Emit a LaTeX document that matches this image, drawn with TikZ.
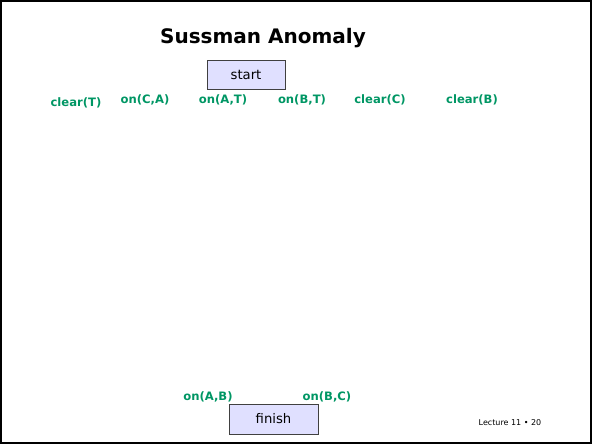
\documentclass[tikz,border=0pt]{standalone}
\usepackage{fontspec}
\setmainfont{DejaVu Sans}
\begin{document}
\begin{tikzpicture}[x=1pt,y=-1pt,
  cond/.style={text=condgreen,font=\bfseries\fontsize{11.6}{13}\selectfont,inner sep=0pt},
  stepbox/.style={draw=black!75,fill=boxfill,line width=0.8pt,inner sep=0pt,
    font=\fontsize{13.2}{15}\selectfont}]
\definecolor{condgreen}{RGB}{0,150,100}
\definecolor{boxfill}{RGB}{224,224,255}
\useasboundingbox (0,0) rectangle (592,444);
\draw[line width=2pt] (1,1) rectangle (591,443);
\node[font=\bfseries\fontsize{20}{23}\selectfont] (title) at (263,38) {Sussman Anomaly};
\node[stepbox,minimum width=78pt,minimum height=29pt] (start) at (246,74.5) {start};
\node[stepbox,minimum width=89pt,minimum height=30pt] (finish) at (273.5,419) {finish};
\node[cond] (c1) at (76,103) {clear(T)};
\node[cond] (c2) at (145,100) {on(C,A)};
\node[cond] (c3) at (223,100) {on(A,T)};
\node[cond] (c4) at (302,100) {on(B,T)};
\node[cond] (c5) at (380,100) {clear(C)};
\node[cond] (c6) at (472,100) {clear(B)};
\node[cond] (g1) at (208,397) {on(A,B)};
\node[cond] (g2) at (327,397) {on(B,C)};
\node[font=\fontsize{8}{9}\selectfont] (page) at (510,423) {Lecture 11 • 20};
\end{tikzpicture}
\end{document}
